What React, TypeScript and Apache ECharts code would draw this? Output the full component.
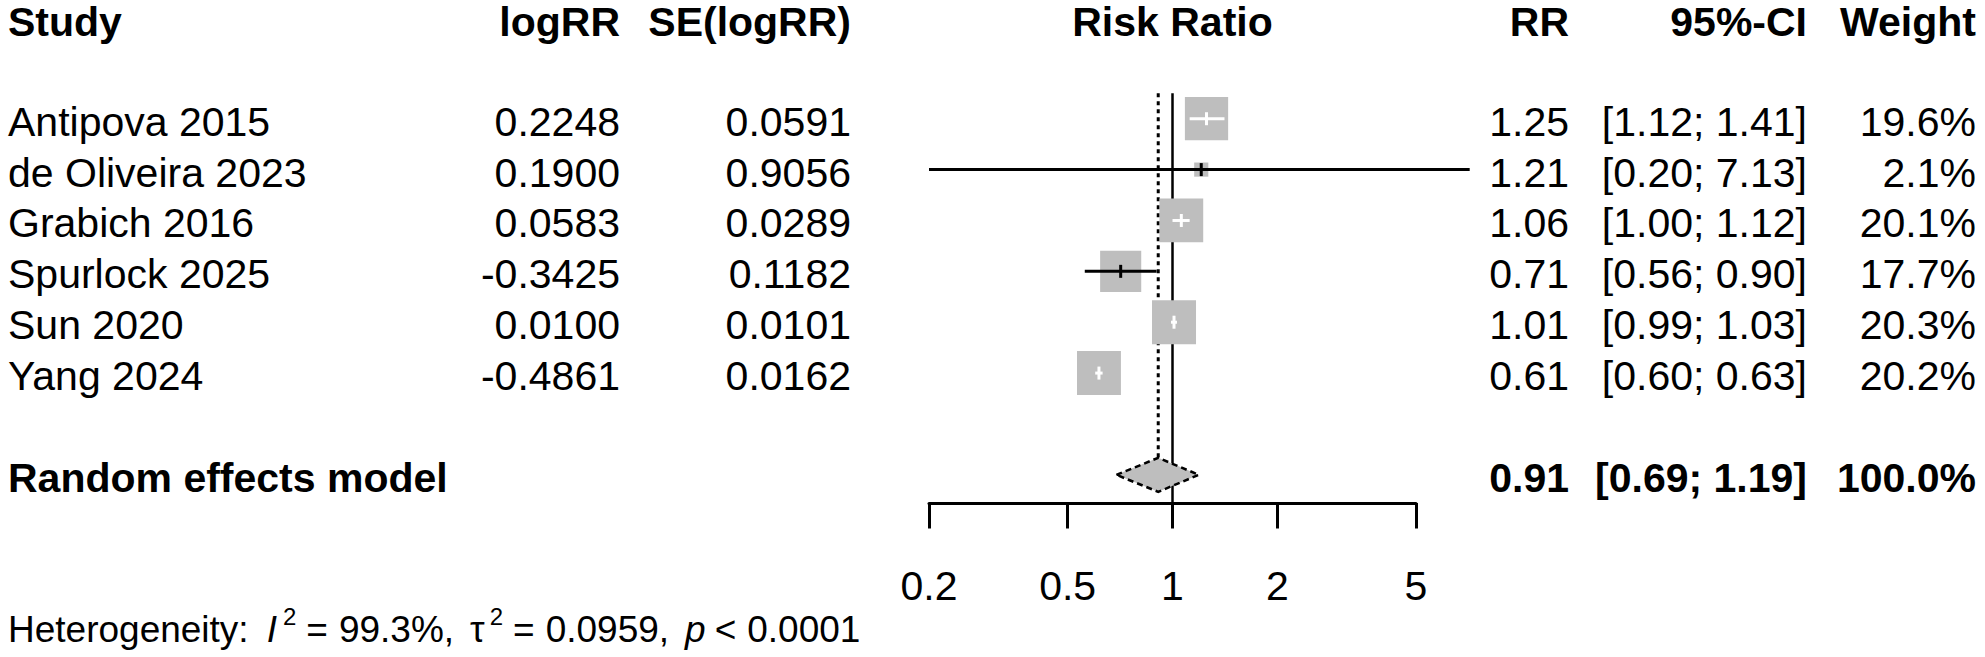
import React, { useEffect, useRef } from 'react';
import * as echarts from 'echarts';

// ---------- data ----------
const studies = ['Antipova 2015', 'de Oliveira 2023', 'Grabich 2016', 'Spurlock 2025', 'Sun 2020', 'Yang 2024'];
const logRR = [0.2248, 0.19, 0.0583, -0.3425, 0.01, -0.4861];
const seLogRR = [0.0591, 0.9056, 0.0289, 0.1182, 0.0101, 0.0162];
const rr = [1.25, 1.21, 1.06, 0.71, 1.01, 0.61];
const ciLower = [1.12, 0.2, 1.0, 0.56, 0.99, 0.6];
const ciUpper = [1.41, 7.13, 1.12, 0.9, 1.03, 0.63];
const weights = [19.6, 2.1, 20.1, 17.7, 20.3, 20.2];

const pooledLabel = 'Random effects model';
const pooledRR = 0.91;
const pooledLower = 0.69;
const pooledUpper = 1.19;
const pooledWeight = 100.0;

const headers = ['Study', 'logRR', 'SE(logRR)', 'Risk Ratio', 'RR', '95%-CI', 'Weight'];
const tickValues = [0.2, 0.5, 1, 2, 5];
const tickLabels = ['0.2', '0.5', '1', '2', '5'];
const axisMin = 0.2;
const axisMax = 5;

const hetI2 = '99.3%';
const hetTau2 = '0.0959';
const hetP = '0.0001';

// ---------- layout / style ----------
const FONT = '"Liberation Sans", Arial, sans-serif';
const FS = 41;
const LH = 36;
const COL_STUDY = 8;
const COL_LOGRR = 620;
const COL_SE = 851;
const COL_RR = 1569;
const COL_CI = 1807;
const COL_W = 1976;
const TEXT_DY = 3;
const HEADER_DY = 5.5;
const HEADER_ROW = -2;
const BOX_SCALE = 9.77;
const TICK_H = 13;
const BOX_COLOR = '#BEBEBE';
const DIAMOND_HALF = 0.334;
const GRID_LEFT = 929;
const GRID_RIGHT = 569;
const GRID_BOTTOM = 154;
const Y_MIN = -2.334;
const Y_MAX = 7.554;
const REF_TOP = -0.5;
const HET_FS = 37;

const pooledRow = studies.length + 1;
const tickLogs = tickValues.map(Math.log);

function txt(text: string, x: number, y: number, align: string, bold = false, size = FS) {
  return {
    type: 'text',
    x,
    y,
    style: {
      text,
      fill: '#000',
      fontSize: size,
      fontFamily: FONT,
      fontWeight: bold ? 'bold' : 'normal',
      lineHeight: LH,
      align,
      textAlign: align,
      verticalAlign: 'middle',
      textVerticalAlign: 'middle',
    },
  };
}

const fmtCI = (l: number, u: number) => `[${l.toFixed(2)}; ${u.toFixed(2)}]`;

// rich-text styles for the heterogeneity line (padding = gap before token)
const hetBase = { fontSize: HET_FS, fontFamily: FONT, lineHeight: 50, fill: '#000', color: '#000' };
const supBase = { ...hetBase, fontSize: 24, lineHeight: 22, verticalAlign: 'top' };
const hetRich: any = {
  n: { ...hetBase },
  iI: { ...hetBase, fontStyle: 'italic', padding: [0, 0, 0, 18] },
  s1: { ...supBase, padding: [0, 0, 0, 6] },
  s2: { ...supBase, padding: [0, 0, 0, 5] },
  eq: { ...hetBase, padding: [0, 0, 0, 10] },
  v: { ...hetBase, padding: [0, 0, 0, 11] },
  g: { ...hetBase, padding: [0, 0, 0, 16] },
  ip: { ...hetBase, fontStyle: 'italic', padding: [0, 0, 0, 16] },
  lt: { ...hetBase, padding: [0, 0, 0, 9] },
};
const hetText =
  `{n|Heterogeneity:}{iI|I}{s1|2}{eq|=}{v|${hetI2},}{g|τ}{s2|2}{eq|=}{v|${hetTau2},}` +
  `{ip|p}{lt|<}{v|${hetP}}`;

export default function App() {
  const ref = useRef<HTMLDivElement>(null);

  useEffect(() => {
    if (!ref.current) return;
    const chart = echarts.init(ref.current, undefined, { renderer: 'svg' });

    const option: any = {
      animation: false,
      backgroundColor: '#fff',
      grid: { left: GRID_LEFT, right: GRID_RIGHT, top: 0, bottom: GRID_BOTTOM, containLabel: false },
      xAxis: {
        type: 'value',
        min: Math.log(axisMin),
        max: Math.log(axisMax),
        axisLine: { show: true, onZero: false, lineStyle: { color: '#000', width: 3 } },
        axisTick: { show: true, length: 25.5, customValues: tickLogs, lineStyle: { color: '#000', width: 3 } },
        axisLabel: {
          show: true,
          customValues: tickLogs,
          margin: 62,
          color: '#000',
          fontSize: FS,
          fontFamily: FONT,
          formatter: (v: number) => {
            let best = 0;
            tickLogs.forEach((t, k) => {
              if (Math.abs(t - v) < Math.abs(tickLogs[best] - v)) best = k;
            });
            return tickLabels[best];
          },
        },
        splitLine: { show: false },
      },
      yAxis: { type: 'value', inverse: true, min: Y_MIN, max: Y_MAX, show: false },
      graphic: [
        {
          type: 'text',
          x: 8,
          y: 629,
          style: {
            text: hetText,
            fill: '#000',
            fontSize: HET_FS,
            fontFamily: FONT,
            verticalAlign: 'middle',
            textVerticalAlign: 'middle',
            rich: hetRich,
          },
        },
      ],
      series: [
        // reference lines (line of no effect, pooled estimate)
        {
          type: 'custom',
          clip: false,
          encode: { x: 0, y: 1 },
          data: [
            [0, REF_TOP],
            [Math.log(pooledRR), REF_TOP],
          ],
          renderItem: (params: any, api: any) => {
            const i = params.dataIndex;
            const [x, y1] = api.coord([api.value(0), api.value(1)]);
            const cs = params.coordSys;
            if (i === 0) {
              return {
                type: 'line',
                shape: { x1: x, y1, x2: x, y2: cs.y + cs.height },
                style: { stroke: '#000', lineWidth: 2.5 },
              };
            }
            const y2 = api.coord([api.value(0), pooledRow - DIAMOND_HALF])[1];
            return {
              type: 'line',
              shape: { x1: x, y1, x2: x, y2 },
              style: { stroke: '#000', lineWidth: 3, lineDash: [4, 4] },
            };
          },
        },
        // header row
        {
          type: 'custom',
          clip: false,
          encode: { x: 0, y: 1 },
          data: [[0, HEADER_ROW]],
          renderItem: (params: any, api: any) => {
            const [xOne, y] = api.coord([0, HEADER_ROW]);
            const ty = y + HEADER_DY;
            return {
              type: 'group',
              children: [
                txt(headers[0], COL_STUDY, ty, 'left', true),
                txt(headers[1], COL_LOGRR, ty, 'right', true),
                txt(headers[2], COL_SE, ty, 'right', true),
                txt(headers[3], xOne, ty, 'center', true),
                txt(headers[4], COL_RR, ty, 'right', true),
                txt(headers[5], COL_CI, ty, 'right', true),
                txt(headers[6], COL_W, ty, 'right', true),
              ],
            };
          },
        },
        // studies
        {
          type: 'custom',
          clip: false,
          encode: { x: 0, y: 1 },
          data: studies.map((_, i) => [logRR[i], i]),
          renderItem: (params: any, api: any) => {
            const i = params.dataIndex;
            const [cx, cy] = api.coord([logRR[i], i]);
            const lx = api.coord([Math.log(ciLower[i]), i])[0];
            const ux = api.coord([Math.log(ciUpper[i]), i])[0];
            const side = BOX_SCALE * Math.sqrt(weights[i]);
            const inside = lx >= cx - side / 2 && ux <= cx + side / 2;
            const lc = inside ? '#fff' : '#000';
            const ty = cy + TEXT_DY;
            return {
              type: 'group',
              children: [
                { type: 'rect', shape: { x: cx - side / 2, y: cy - side / 2, width: side, height: side }, style: { fill: BOX_COLOR } },
                { type: 'line', shape: { x1: lx, y1: cy, x2: ux, y2: cy }, style: { stroke: lc, lineWidth: 3 } },
                { type: 'line', shape: { x1: cx, y1: cy - TICK_H / 2, x2: cx, y2: cy + TICK_H / 2 }, style: { stroke: lc, lineWidth: 3 } },
                txt(studies[i], COL_STUDY, ty, 'left'),
                txt(logRR[i].toFixed(4), COL_LOGRR, ty, 'right'),
                txt(seLogRR[i].toFixed(4), COL_SE, ty, 'right'),
                txt(rr[i].toFixed(2), COL_RR, ty, 'right'),
                txt(fmtCI(ciLower[i], ciUpper[i]), COL_CI, ty, 'right'),
                txt(`${weights[i].toFixed(1)}%`, COL_W, ty, 'right'),
              ],
            };
          },
        },
        // pooled estimate
        {
          type: 'custom',
          clip: false,
          encode: { x: 0, y: 1 },
          data: [[Math.log(pooledRR), pooledRow]],
          renderItem: (params: any, api: any) => {
            const [cx, cy] = api.coord([Math.log(pooledRR), pooledRow]);
            const lx = api.coord([Math.log(pooledLower), pooledRow])[0];
            const ux = api.coord([Math.log(pooledUpper), pooledRow])[0];
            const top = api.coord([Math.log(pooledRR), pooledRow - DIAMOND_HALF])[1];
            const bot = api.coord([Math.log(pooledRR), pooledRow + DIAMOND_HALF])[1];
            const ty = cy + TEXT_DY;
            return {
              type: 'group',
              children: [
                {
                  type: 'polygon',
                  shape: { points: [[lx, cy], [cx, top], [ux, cy], [cx, bot]] },
                  style: { fill: BOX_COLOR, stroke: '#000', lineWidth: 2.5, lineDash: [6, 4] },
                },
                txt(pooledLabel, COL_STUDY, ty, 'left', true),
                txt(pooledRR.toFixed(2), COL_RR, ty, 'right', true),
                txt(fmtCI(pooledLower, pooledUpper), COL_CI, ty, 'right', true),
                txt(`${pooledWeight.toFixed(1)}%`, COL_W, ty, 'right', true),
              ],
            };
          },
        },
      ],
    };

    chart.setOption(option);
    return () => chart.dispose();
  }, []);

  return (
    <div
      ref={ref}
      style={{ position: 'absolute', left: 0, top: 0, width: 1985, height: 657, background: '#fff' }}
    />
  );
}
